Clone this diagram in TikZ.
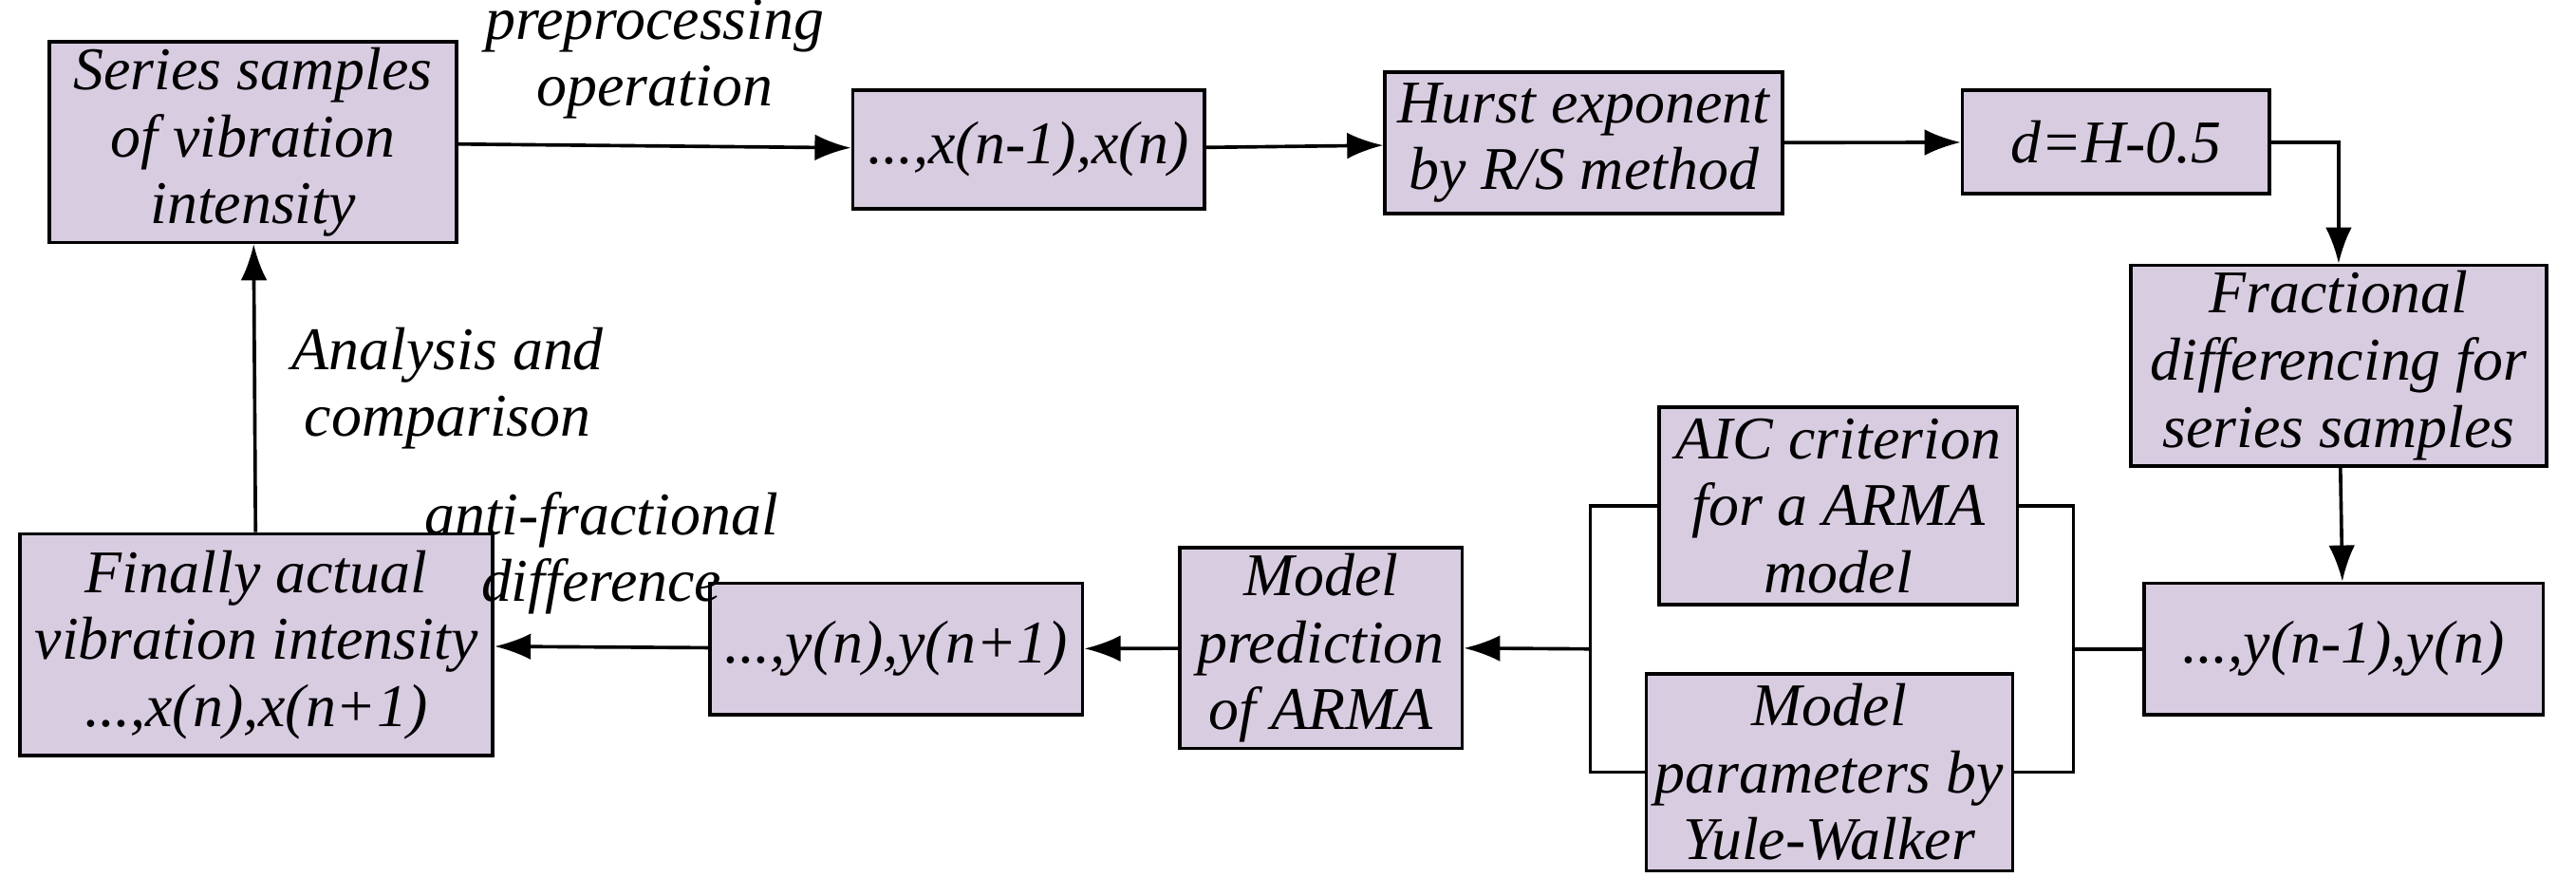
\documentclass[tikz,border=0pt]{standalone}
\usepackage{fontspec}
\setmainfont{Liberation Serif}
\usetikzlibrary{arrows.meta}
\definecolor{boxfill}{RGB}{216,204,225}

\tikzset{
  blk/.style={draw, fill=boxfill, line width=0.6pt, align=center, inner sep=1pt,
    font=\fontsize{10.5}{11.6}\selectfont\itshape},
  lbl/.style={align=center, font=\fontsize{10.5}{11.6}\selectfont\itshape},
  flow/.style={-{Latex[length=2.2mm,width=1.6mm]}, line width=0.6pt},
  wire/.style={line width=0.6pt}
}

\begin{document}
\begin{tikzpicture}
  \useasboundingbox (0,0) rectangle (15.68,-5.45);

  \node[blk, minimum width=2.48cm, minimum height=1.17cm] (series) at (1.54,-0.865) {Series samples\\of vibration\\intensity};
  \node[blk, minimum width=2.14cm, minimum height=0.72cm] (xn) at (6.26,-0.91) {...,x(n-1),x(n)};
  \node[blk, minimum width=2.42cm, minimum height=0.86cm] (hurst) at (9.64,-0.87) {Hurst exponent\\by R/S method};
  \node[blk, minimum width=1.87cm, minimum height=0.63cm] (dval) at (12.88,-0.865) {d=H-0.5};
  \node[blk, minimum width=2.53cm, minimum height=1.21cm] (frac) at (14.235,-2.225) {Fractional\\differencing for\\series samples};
  \node[blk, minimum width=2.43cm, minimum height=0.80cm] (yn) at (14.265,-3.95) {...,y(n-1),y(n)};
  \node[blk, minimum width=2.18cm, minimum height=1.20cm] (aic) at (11.19,-3.08) {AIC criterion\\for a ARMA\\model};
  \node[blk, minimum width=2.23cm, minimum height=1.20cm] (yule) at (11.135,-4.70) {Model\\parameters by\\Yule-Walker};
  \node[blk, minimum width=1.72cm, minimum height=1.15cm] (pred) at (8.04,-3.945) {Model\\prediction\\of ARMA};
  \node[blk, minimum width=2.27cm, minimum height=0.80cm] (ynext) at (5.455,-3.95) {...,y(n),y(n+1)};
  \node[blk, minimum width=2.88cm, minimum height=1.35cm] (final) at (1.56,-3.925) {Finally actual\\vibration intensity\\...,x(n),x(n+1)};

  \coordinate (splitR) at (12.62,-3.95);
  \coordinate (splitL) at (9.68,-3.95);

  \draw[flow] (series) -- node[lbl, above=1pt] {preprocessing\\operation} (xn);
  \draw[flow] (xn) -- (hurst);
  \draw[flow] (hurst) -- (dval);
  \draw[flow] (dval.east) -| (frac.north);
  \draw[flow] (frac) -- (yn);
  \draw[wire] (yn.west) -- (splitR);
  \draw[wire] (aic.east) -| (splitR) |- (yule.east);
  \draw[wire] (aic.west) -| (splitL) |- (yule.west);
  \draw[flow] (splitL) -- (pred.east);
  \draw[flow] (pred) -- (ynext);
  \draw[flow] (ynext) -- node[lbl, above=2pt] {anti-fractional\\difference} (final);
  \draw[flow] (final) -- node[lbl, right=0.1cm] {Analysis and\\comparison} (series);
\end{tikzpicture}
\end{document}
